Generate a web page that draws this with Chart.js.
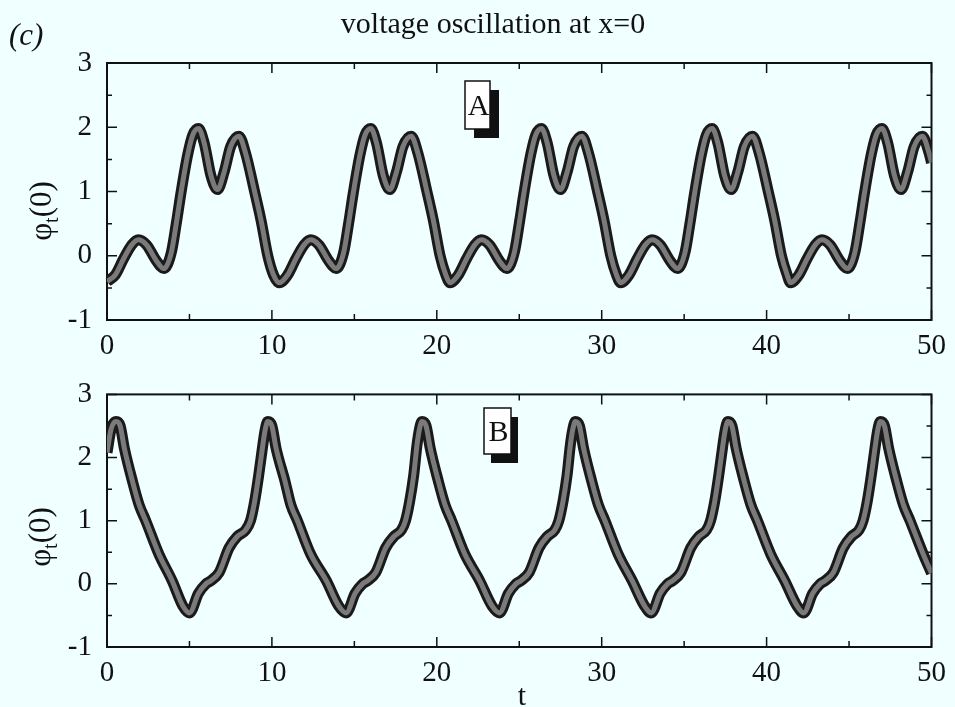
<!DOCTYPE html>
<html>
<head>
<meta charset="utf-8">
<script src="https://cdn.jsdelivr.net/npm/chart.js@4.4.1/dist/chart.umd.min.js"></script>
<style>
  body { margin: 0; background: #f0ffff; }
  #wrap { position: relative; width: 955px; height: 707px; background: #f0ffff; }
  canvas { position: absolute; left: 0; }
</style>
</head>
<body>
<div id="wrap">
  <canvas id="chartA" width="955" height="362" style="top:0"></canvas>
  <canvas id="chartB" width="955" height="345" style="top:362px"></canvas>
</div>
<script>
// panel A: phi_t(0) vs t
const tA = [
  0, 0.5, 1.0, 1.5, 1.9, 2.4, 3.0, 3.45, 3.9, 4.2, 4.5, 4.9, 5.2, 5.55, 5.9, 6.3, 6.7, 7.1, 7.5, 8.0, 8.4, 8.95, 9.35, 9.75, 10.1,
  10.45, 10.95, 11.45, 11.95, 12.35, 12.85, 13.45, 13.9, 14.35, 14.65, 14.95, 15.35, 15.65, 16.0, 16.35, 16.75, 17.15, 17.55, 17.95, 18.45, 18.85, 19.4, 19.8, 20.2, 20.55,
  20.8, 21.3, 21.8, 22.3, 22.7, 23.2, 23.8, 24.25, 24.7, 25.0, 25.3, 25.7, 26.0, 26.35, 26.7, 27.1, 27.5, 27.9, 28.3, 28.8, 29.2, 29.75, 30.15, 30.55, 30.9,
  31.15, 31.65, 32.15, 32.65, 33.05, 33.55, 34.15, 34.6, 35.05, 35.35, 35.65, 36.05, 36.35, 36.7, 37.05, 37.45, 37.85, 38.25, 38.65, 39.15, 39.55, 40.1, 40.5, 40.9, 41.25,
  41.45, 41.95, 42.45, 42.95, 43.35, 43.85, 44.45, 44.9, 45.35, 45.65, 45.95, 46.35, 46.65, 47.0, 47.35, 47.75, 48.15, 48.55, 48.95, 49.45, 49.85, 50
];
const vA = [
  -0.4, -0.3, -0.05, 0.17, 0.25, 0.17, -0.08, -0.2, 0.05, 0.5, 1.0, 1.58, 1.88, 1.98, 1.75, 1.25, 1.03, 1.3, 1.7, 1.86, 1.6, 1.0, 0.54, 0.0, -0.3,
  -0.42, -0.3, -0.05, 0.17, 0.25, 0.17, -0.08, -0.2, 0.05, 0.5, 1.0, 1.58, 1.88, 1.98, 1.75, 1.25, 1.03, 1.3, 1.7, 1.86, 1.6, 1.0, 0.54, 0.0, -0.3,
  -0.42, -0.3, -0.05, 0.17, 0.25, 0.17, -0.08, -0.2, 0.05, 0.5, 1.0, 1.58, 1.88, 1.98, 1.75, 1.25, 1.03, 1.3, 1.7, 1.86, 1.6, 1.0, 0.54, 0.0, -0.3,
  -0.42, -0.3, -0.05, 0.17, 0.25, 0.17, -0.08, -0.2, 0.05, 0.5, 1.0, 1.58, 1.88, 1.98, 1.75, 1.25, 1.03, 1.3, 1.7, 1.86, 1.6, 1.0, 0.54, 0.0, -0.3,
  -0.42, -0.3, -0.05, 0.17, 0.25, 0.17, -0.08, -0.2, 0.05, 0.5, 1.0, 1.58, 1.88, 1.98, 1.75, 1.25, 1.03, 1.3, 1.7, 1.86, 1.6, 1.45
];

// panel B
const tB = [
  0, 0.25, 0.55, 0.8, 1.05, 1.55, 1.95, 2.35, 3.15, 3.95, 4.6, 5.0,
  5.55, 6.0, 6.3, 6.8, 7.4, 7.9, 8.4, 8.7, 8.95, 9.2, 9.45, 9.6, 9.75,
  10.0, 10.25, 10.8, 11.15, 11.55, 12.35, 13.3, 14.05, 14.5,
  15.05, 15.5, 15.8, 16.3, 16.9, 17.4, 17.85, 18.1, 18.35, 18.6, 18.8, 18.95, 19.1,
  19.35, 19.6, 20.1, 20.5, 20.9, 21.7, 22.6, 23.35, 23.8,
  24.35, 24.8, 25.1, 25.6, 26.2, 26.7, 27.15, 27.4, 27.65, 27.9, 28.1, 28.25, 28.4,
  28.65, 28.9, 29.4, 29.8, 30.2, 31.0, 31.85, 32.6, 33.0,
  33.55, 34.0, 34.3, 34.8, 35.4, 35.9, 36.35, 36.6, 36.85, 37.1, 37.35, 37.5, 37.65,
  37.9, 38.15, 38.65, 39.05, 39.45, 40.25, 41.1, 41.85, 42.25,
  42.8, 43.25, 43.55, 44.05, 44.65, 45.15, 45.6, 45.85, 46.1, 46.35, 46.6, 46.75, 46.9,
  47.15, 47.4, 47.9, 48.3, 48.7, 49.5, 50
];
const vB = [
  2.08, 2.45, 2.57, 2.5, 2.15, 1.62, 1.25, 1.0, 0.47, 0.05, -0.35, -0.46,
  -0.15, 0.0, 0.05, 0.18, 0.57, 0.75, 0.85, 1.0, 1.3, 1.72, 2.2, 2.45, 2.57,
  2.5, 2.15, 1.62, 1.25, 1.0, 0.47, 0.05, -0.35, -0.46,
  -0.15, 0.0, 0.05, 0.18, 0.57, 0.75, 0.85, 1.0, 1.3, 1.72, 2.2, 2.45, 2.57,
  2.5, 2.15, 1.62, 1.25, 1.0, 0.47, 0.05, -0.35, -0.46,
  -0.15, 0.0, 0.05, 0.18, 0.57, 0.75, 0.85, 1.0, 1.3, 1.72, 2.2, 2.45, 2.57,
  2.5, 2.15, 1.62, 1.25, 1.0, 0.47, 0.05, -0.35, -0.46,
  -0.15, 0.0, 0.05, 0.18, 0.57, 0.75, 0.85, 1.0, 1.3, 1.72, 2.2, 2.45, 2.57,
  2.5, 2.15, 1.62, 1.25, 1.0, 0.47, 0.05, -0.35, -0.46,
  -0.15, 0.0, 0.05, 0.18, 0.57, 0.75, 0.85, 1.0, 1.3, 1.72, 2.2, 2.45, 2.57,
  2.5, 2.15, 1.62, 1.25, 1.0, 0.47, 0.17
];

const xRange = [0, 50];
const yRange = [-1, 3];
const title = 'voltage oscillation at x=0';
const SERIF = '"Liberation Serif", "DejaVu Serif", serif';

// frame + inward ticks on all four sides
const framePlugin = {
  id: 'frame',
  beforeDatasetsDraw(chart) {
    const { ctx, chartArea: a, scales: { x, y } } = chart;
    ctx.save();
    ctx.strokeStyle = '#111';
    ctx.lineWidth = 2;
    ctx.strokeRect(a.left, a.top, a.right - a.left, a.bottom - a.top);
    ctx.lineWidth = 1.5;
    ctx.beginPath();
    for (let v = yRange[0]; v <= yRange[1]; v += 0.5) {
      const py = y.getPixelForValue(v);
      const len = Number.isInteger(v) ? 10 : 5;
      ctx.moveTo(a.left, py); ctx.lineTo(a.left + len, py);
      ctx.moveTo(a.right, py); ctx.lineTo(a.right - len, py);
    }
    for (let t = xRange[0]; t <= xRange[1]; t += 5) {
      const px = x.getPixelForValue(t);
      const len = t % 10 === 0 ? 10 : 6;
      ctx.moveTo(px, a.bottom); ctx.lineTo(px, a.bottom - len);
      ctx.moveTo(px, a.top); ctx.lineTo(px, a.top + len);
    }
    ctx.stroke();
    ctx.restore();
  }
};

// text that chart.js has no slot for: y title with subscript, tag boxes, headings
const textPlugin = {
  id: 'texts',
  afterDraw(chart, args, opts) {
    const { ctx } = chart;
    ctx.save();
    ctx.fillStyle = '#111';
    ctx.textBaseline = 'alphabetic';

    // y axis title  φ_t(0), rotated
    ctx.save();
    ctx.translate(opts.yTitleX, opts.yTitleY);
    ctx.rotate(-Math.PI / 2);
    const big = '31px ' + SERIF, small = '20px ' + SERIF;
    ctx.font = big; const w1 = ctx.measureText('φ').width; const w3 = ctx.measureText('(0)').width;
    ctx.font = small; const w2 = ctx.measureText('t').width;
    let cx = -(w1 + w2 + w3) / 2;
    ctx.font = big; ctx.fillText('φ', cx, 10); cx += w1;
    ctx.font = small; ctx.fillText('t', cx, 17); cx += w2;
    ctx.font = big; ctx.fillText('(0)', cx, 10);
    ctx.restore();

    // tag box with drop shadow
    const b = opts.tag;
    ctx.fillStyle = '#111';
    ctx.fillRect(b.x + b.dx, b.y + b.dy, b.w, b.h);
    ctx.fillStyle = '#fff';
    ctx.fillRect(b.x, b.y, b.w, b.h);
    ctx.strokeStyle = '#111';
    ctx.lineWidth = 1.5;
    ctx.strokeRect(b.x, b.y, b.w, b.h);
    ctx.fillStyle = '#111';
    ctx.font = '30px ' + SERIF;
    ctx.textAlign = 'center';
    ctx.fillText(b.text, b.x + b.w / 2 + 1, b.y + b.h / 2 + 10);

    if (opts.heading) {
      ctx.textAlign = 'center';
      ctx.font = '30px ' + SERIF;
      ctx.fillText(title, 493, 33);
      ctx.textAlign = 'left';
      ctx.font = 'italic 31px ' + SERIF;
      ctx.fillText('(c)', 9, 45);
    }
    if (opts.xTitle) {
      ctx.textAlign = 'center';
      ctx.font = '30px ' + SERIF;
      ctx.fillText('t', 522, 343);
    }
    ctx.restore();
  }
};

function points(ts, vs) {
  return ts.map((t, i) => ({ x: t, y: vs[i] }));
}

function makePanel(id, ts, vs, padTop, axisH, texts) {
  const data = points(ts, vs);
  const band = (color, width) => ({
    data,
    borderColor: color,
    borderWidth: width,
    pointRadius: 0,
    cubicInterpolationMode: 'monotone',
    fill: false
  });
  return new Chart(document.getElementById(id), {
    type: 'line',
    // first dataset is drawn last, so the grey core sits on the dark band
    data: { datasets: [band('#7a7a7a', 5), band('#1a1a1a', 11)] },
    options: {
      responsive: false,
      animation: false,
      layout: { padding: { top: padTop, right: 21, left: 0, bottom: 0 } },
      plugins: { legend: { display: false }, tooltip: { enabled: false }, texts },
      scales: {
        x: {
          type: 'linear', min: xRange[0], max: xRange[1],
          grid: { display: false, drawTicks: false },
          border: { display: false },
          ticks: { stepSize: 10, autoSkip: false, maxRotation: 0, padding: 9, color: '#111',
                   font: { family: SERIF, size: 29 } },
          afterFit(s) { s.height = axisH; }
        },
        y: {
          min: yRange[0], max: yRange[1],
          grid: { display: false, drawTicks: false },
          border: { display: false },
          ticks: { stepSize: 1, padding: 15, color: '#111', font: { family: SERIF, size: 29 } },
          afterFit(s) { s.width = 107; }
        }
      }
    },
    plugins: [framePlugin, textPlugin]
  });
}

makePanel('chartA', tA, vA, 63, 42, {
  yTitleX: 41, yTitleY: 211, heading: true,
  tag: { text: 'A', x: 465, y: 81, w: 25, h: 48, dx: 9, dy: 9 }
});
makePanel('chartB', tB, vB, 31, 60, {
  yTitleX: 40, yTitleY: 175, xTitle: true,
  tag: { text: 'B', x: 484, y: 46, w: 27, h: 46, dx: 7, dy: 9 }
});
</script>
</body>
</html>
